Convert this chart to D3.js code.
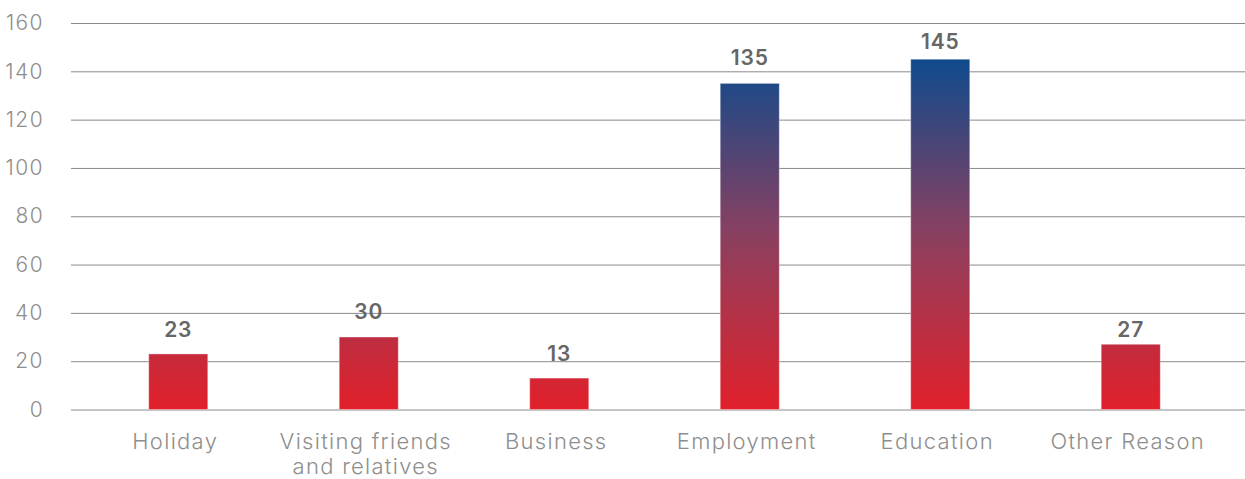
<!DOCTYPE html>
<html><head><meta charset="utf-8">
<script src="https://cdn.jsdelivr.net/npm/d3@7"></script>
<style>body{margin:0;background:#fff}svg{display:block}</style>
</head><body><svg id="c" width="1245" height="479"></svg>
<script>
const categories = [["Holiday"], ["Visiting friends", "and relatives"], ["Business"], ["Employment"], ["Education"], ["Other Reason"]];
const values = [23, 30, 13, 135, 145, 27];
const yTicks = [0, 20, 40, 60, 80, 100, 120, 140, 160];
// label gap above each bar (styling)
const labelGap = [17, 18, 17, 18, 10, 7];

const FONT = "Inter, 'Open Sans', sans-serif";
const svg = d3.select("#c");
const keys = categories.map(c => c.join(" "));
const x = d3.scaleBand().domain(keys).range([83, 1226]).paddingInner(0.69).paddingOuter(0.345);
const y = d3.scaleLinear().domain([0, 160]).range([409.5, 23]);

const defs = svg.append("defs");
const g = defs.append("linearGradient").attr("id", "grad").attr("gradientUnits", "userSpaceOnUse")
  .attr("x1", 0).attr("x2", 0).attr("y1", y(0)).attr("y2", y(145));
g.append("stop").attr("offset", 0).attr("stop-color", "#e2202a");
g.append("stop").attr("offset", 0.5).attr("stop-color", "#8a4060");
g.append("stop").attr("offset", 1).attr("stop-color", "#0f4a8c");

const yAxis = d3.axisLeft(y).tickValues(yTicks).tickSize(-(1245 - 71)).tickPadding(27);
const ya = svg.append("g").attr("transform", "translate(71,0)").call(yAxis);
ya.select(".domain").remove();
ya.selectAll(".tick line").attr("stroke", "#8a8a8a").attr("stroke-width", 1);
ya.selectAll(".tick text").attr("fill", "#8e8e8e").attr("font-family", FONT)
  .attr("font-weight", 300).attr("font-size", 21).attr("letter-spacing", 1.4);

svg.append("g").selectAll("rect").data(values).join("rect")
  .attr("x", (d, i) => x(keys[i])).attr("width", x.bandwidth())
  .attr("y", d => y(d)).attr("height", d => y(0) - y(d))
  .attr("fill", "url(#grad)").attr("stroke", "rgba(255,255,255,0.35)").attr("stroke-width", 1);

svg.append("g").selectAll("text").data(values).join("text")
  .attr("x", (d, i) => x(keys[i]) + x.bandwidth() / 2)
  .attr("y", (d, i) => y(d) - labelGap[i])
  .attr("text-anchor", "middle").attr("fill", "#666").attr("font-family", FONT)
  .attr("font-weight", 600).attr("font-size", 21).attr("letter-spacing", 0.8).text(d => d);

const xa = svg.append("g");
categories.forEach((lines, i) => {
  const cx = x(keys[i]) + x.bandwidth() / 2 - 3;
  const t = xa.append("text").attr("y", 449)
    .attr("text-anchor", "middle").attr("fill", "#8e8e8e").attr("font-family", FONT)
    .attr("font-weight", 300).attr("font-size", 22).attr("letter-spacing", 1.3);
  lines.forEach((l, j) => t.append("tspan").attr("x", cx).attr("dy", j ? 25 : 0).text(l));
});
</script></body></html>
